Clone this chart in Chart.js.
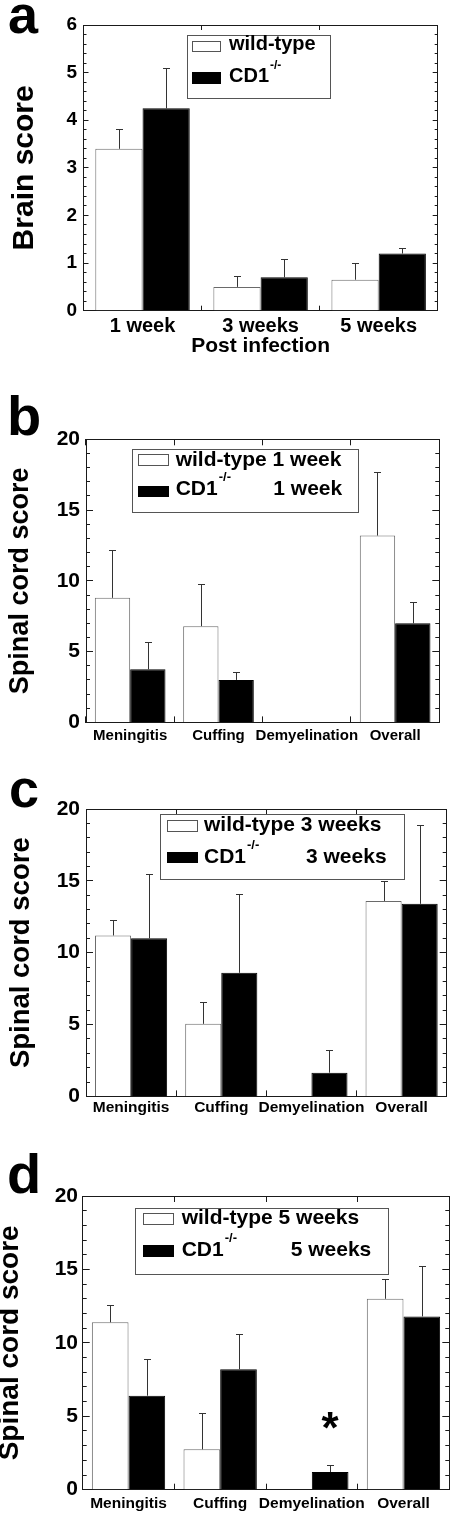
<!DOCTYPE html>
<html><head><meta charset="utf-8">
<script src="https://cdn.jsdelivr.net/npm/chart.js@4/dist/chart.umd.min.js"></script>
<style>
html,body{margin:0;padding:0;background:#fff;}
body{width:452px;height:1514px;position:relative;overflow:hidden;}
.panel{position:absolute;left:0;width:452px;}
</style></head><body>
<div class="panel" style="top:0;height:378px"><canvas id="ca"></canvas></div>
<div class="panel" style="top:380px;height:368px"><canvas id="cb"></canvas></div>
<div class="panel" style="top:750px;height:372px"><canvas id="cc"></canvas></div>
<div class="panel" style="top:1125px;height:389px"><canvas id="cd"></canvas></div>
<script>
// ---------- data ----------
const seriesNames = ['wild-type', 'CD1'];
const seriesSup = ['', '-/-'];
const timepoints = ['1 week', '3 weeks', '5 weeks'];

const brainCategories = ['1 week', '3 weeks', '5 weeks'];
const brainYTickLabels = ['0', '1', '2', '3', '4', '5', '6'];
const brainWildType = [3.40, 0.50, 0.65];
const brainWildTypeErr = [0.41, 0.23, 0.35];
const brainCD1 = [4.25, 0.70, 1.20];
const brainCD1Err = [0.85, 0.38, 0.12];

const cordCategories = ['Meningitis', 'Cuffing', 'Demyelination', 'Overall'];
const cordYTickLabels = ['0', '5', '10', '15', '20'];

const week1WildType = [8.8, 6.8, 0, 13.2];
const week1WildTypeErr = [3.4, 3.0, 0, 4.5];
const week1CD1 = [3.75, 3.0, 0, 7.0];
const week1CD1Err = [1.9, 0.55, 0, 1.5];

const week3WildType = [11.2, 5.05, 0, 13.6];
const week3WildTypeErr = [1.1, 1.5, 0, 1.4];
const week3CD1 = [11.0, 8.6, 1.65, 13.4];
const week3CD1Err = [4.5, 5.5, 1.6, 5.5];

const week5WildType = [11.4, 2.75, 0, 13.0];
const week5WildTypeErr = [1.2, 2.45, 0, 1.35];
const week5CD1 = [6.4, 8.2, 1.2, 11.8];
const week5CD1Err = [2.5, 2.4, 0.5, 3.45];
const week5Significance = [null, null, 4.0, null]; // '*' above CD1 bars

// ---------- plugins ----------
const FONT = "'Liberation Sans', Arial, Helvetica, sans-serif";
Chart.defaults.font.family = FONT;
Chart.defaults.color = '#000';

const errorBars = {
  id: 'errorBars',
  afterDatasetsDraw(chart, args, o) {
    const ctx = chart.ctx, ys = chart.scales.y;
    ctx.save();
    ctx.strokeStyle = o.color || '#333';
    ctx.lineWidth = 1;
    chart.data.datasets.forEach((ds, di) => {
      if (!ds.errors) return;
      const meta = chart.getDatasetMeta(di);
      meta.data.forEach((el, j) => {
        const e = ds.errors[j];
        if (!e) return;
        const v = ds.data[j];
        const x = Math.round(el.x) + 0.5;
        const y0 = ys.getPixelForValue(v);
        const y1 = Math.round(ys.getPixelForValue(v + e)) + 0.5;
        const cap = o.cap || 3.5;
        ctx.beginPath();
        ctx.moveTo(x, y0); ctx.lineTo(x, y1);
        ctx.moveTo(x - cap, y1); ctx.lineTo(x + cap, y1);
        ctx.stroke();
      });
    });
    ctx.restore();
  }
};

const boxLegend = {
  id: 'boxLegend',
  afterDraw(chart, args, o) {
    if (!o || !o.items) return;
    const ctx = chart.ctx, ca = chart.chartArea;
    const L = ca.left, T = ca.top;
    ctx.save();
    ctx.lineWidth = 1;
    ctx.strokeStyle = '#555';
    const [bx, by, bw, bh] = o.box;
    ctx.strokeRect(Math.round(L + bx) + 0.5, Math.round(T + by) + 0.5, Math.round(bw), Math.round(bh));
    o.items.forEach(it => {
      const [sx, sy, sw, sh] = it.swatch;
      const rx = Math.round(L + sx), ry = Math.round(T + sy), rw = Math.round(sw), rh = Math.round(sh);
      ctx.fillStyle = it.fill;
      ctx.fillRect(rx, ry, rw, rh);
      ctx.strokeStyle = it.stroke;
      ctx.strokeRect(rx + 0.5, ry + 0.5, rw - 1, rh - 1);
      ctx.fillStyle = '#000';
      ctx.textBaseline = 'alphabetic';
      ctx.textAlign = 'left';
      ctx.font = 'bold ' + o.font + 'px ' + FONT;
      const tx = L + it.x, ty = T + it.baseline;
      ctx.fillText(it.text, tx, ty);
      if (it.sup) {
        const w = ctx.measureText(it.text).width;
        ctx.font = 'bold ' + o.supFont + 'px ' + FONT;
        ctx.fillText(it.sup, tx + w + 1, ty - o.supRaise);
        ctx.font = 'bold ' + o.font + 'px ' + FONT;
      }
      if (it.tail) ctx.fillText(it.tail, L + it.tailX, ty);
    });
    ctx.restore();
  }
};

const panelLetter = {
  id: 'panelLetter',
  afterDraw(chart, args, o) {
    if (!o || !o.text) return;
    const ctx = chart.ctx;
    ctx.save();
    ctx.fillStyle = '#000';
    ctx.font = 'bold ' + o.size + 'px ' + FONT;
    ctx.textBaseline = 'alphabetic';
    ctx.textAlign = 'left';
    ctx.fillText(o.text, o.x, o.y);
    ctx.restore();
  }
};

const sigMarks = {
  id: 'sigMarks',
  afterDatasetsDraw(chart, args, o) {
    if (!o || !o.values) return;
    const ctx = chart.ctx, ys = chart.scales.y;
    const meta = chart.getDatasetMeta(o.dataset);
    ctx.save();
    ctx.fillStyle = '#000';
    ctx.font = 'bold ' + o.size + 'px ' + FONT;
    ctx.textAlign = 'center';
    ctx.textBaseline = 'middle';
    o.values.forEach((v, j) => {
      if (v === null || v === undefined) return;
      ctx.fillText(o.text, meta.data[j].x, ys.getPixelForValue(v));
    });
    ctx.restore();
  }
};

Chart.register(errorBars, boxLegend, panelLetter, sigMarks);

// ---------- builder ----------
function buildChart(id, c) {
  const yl = c.yLabels.map(Number);
  const ymin = yl[0], ymax = yl[yl.length - 1], major = yl[1] - yl[0];
  const tickCol = '#1a1a1a';
  const g = (len, offset) => ({display: true, drawOnChartArea: false, drawTicks: true,
    tickLength: -len, tickColor: tickCol, tickWidth: 1, offset: offset});
  const b = (show) => ({display: show, color: tickCol, width: 1});
  const lin = (pos, step, len, weight, showBorder, extraTicks, fitW) => ({
    type: 'linear', position: pos, min: ymin, max: ymax, weight: weight,
    grid: g(len, false), border: b(showBorder),
    ticks: Object.assign({display: false, stepSize: step, maxTicksLimit: 1000, autoSkip: false}, extraTicks || {}),
    afterFit: s => { s.width = fitW; }
  });
  const scales = {
    x: {type: 'category', position: 'bottom', offset: true, weight: 1, grid: g(c.xTick, true), border: b(true),
      ticks: {display: true, autoSkip: false, maxRotation: 0, minRotation: 0, padding: c.xPad, color: '#000',
        font: {size: c.xFont, weight: 'bold'}},
      title: c.xTitle ? {display: true, text: c.xTitle, color: '#000', font: {size: c.xTitleSize, weight: 'bold'},
        padding: {top: 0, bottom: 0}} : {display: false},
      afterFit: s => { s.height = c.xH; }},
    xTop: {type: 'category', position: 'top', labels: c.categories, offset: true, grid: g(c.xTick, true),
      border: b(true), ticks: {display: false}, afterFit: s => { s.height = 0; }},
    y: lin('left', major, c.majorTick, 2, true, {display: true, padding: c.yPad, color: '#000',
      font: {size: c.yFont, weight: 'bold'},
      callback: v => { const k = yl.indexOf(v); return k >= 0 ? c.yLabels[k] : ''; }}, c.left),
    yMinor: lin('left', c.minorStep, c.minorTick, 1, false, null, 0),
    yRight: lin('right', major, c.majorTick, 1, true, null, 0),
    yRightMinor: lin('right', c.minorStep, c.minorTick, 2, false, null, 0)
  };
  scales.y.title = {display: true, text: c.yTitle, color: '#000', font: {size: c.yTitleSize, weight: 'bold'},
    padding: {top: c.yTitlePad, bottom: 0}};
  return new Chart(document.getElementById(id), {
    type: 'bar',
    data: {
      labels: c.categories,
      datasets: c.datasets.map(d => ({
        label: d.label, data: d.data, errors: d.errors,
        backgroundColor: d.bg, borderColor: d.border, borderWidth: 1, borderSkipped: 'start',
        categoryPercentage: 0.8, barPercentage: 1.0, xAxisID: 'x', yAxisID: 'y'
      }))
    },
    options: {
      responsive: true, maintainAspectRatio: false, animation: false, events: [],
      layout: {padding: {top: c.top, right: c.right, bottom: c.bottom, left: 0}},
      scales: scales,
      plugins: {
        legend: {display: false}, tooltip: {enabled: false},
        errorBars: {color: '#333', cap: 3.5},
        boxLegend: c.legend, panelLetter: c.letter, sigMarks: c.sig || {}
      }
    }
  });
}

const wtStyle = {bg: '#ffffff', border: '#6a6a6a'};
const koStyle = {bg: '#000000', border: '#000000'};

function cordDatasets(wt, wtErr, ko, koErr, tp) {
  return [
    Object.assign({label: seriesNames[0] + ' ' + tp, data: wt, errors: wtErr}, wtStyle),
    Object.assign({label: seriesNames[1] + seriesSup[1] + ' ' + tp, data: ko, errors: koErr}, koStyle)
  ];
}
const cordCommon = {
  categories: cordCategories, yLabels: cordYTickLabels, minorStep: 1,
  xTick: 6, majorTick: 7, minorTick: 4, yFont: 21, yPad: 13,
  yTitle: 'Spinal cord score', bottom: 0
};

// Panel a
buildChart('ca', {
  categories: brainCategories, yLabels: brainYTickLabels, minorStep: 0.2,
  datasets: [
    Object.assign({label: seriesNames[0], data: brainWildType, errors: brainWildTypeErr}, wtStyle),
    Object.assign({label: seriesNames[1] + seriesSup[1], data: brainCD1, errors: brainCD1Err}, koStyle)
  ],
  top: 25, right: 14.3, bottom: 18.7, left: 83.5, xH: 48.6,
  xTick: 5, majorTick: 5, minorTick: 3,
  xFont: 20, xPad: 8.7, xTitle: 'Post infection', xTitleSize: 21,
  yFont: 19, yPad: 11.5, yTitle: 'Brain score', yTitleSize: 30, yTitlePad: 6.6,
  legend: {box: [103.2, 10, 142.6, 63.3], font: 20, supFont: 12, supRaise: 13, items: [
    {fill: '#fff', stroke: '#555', swatch: [108.2, 15.7, 29, 11], text: seriesNames[0], x: 145.5, baseline: 25},
    {fill: '#000', stroke: '#000', swatch: [108.2, 46.7, 29, 12], text: seriesNames[1], sup: seriesSup[1], x: 145.5, baseline: 56.7}
  ]},
  letter: {text: 'a', x: 8, y: 33, size: 54}
});

// Panel b
buildChart('cb', Object.assign({}, cordCommon, {
  datasets: cordDatasets(week1WildType, week1WildTypeErr, week1CD1, week1CD1Err, timepoints[0]),
  top: 59.3, right: 12.7, left: 86, xH: 25.3, xFont: 15, xPad: 10.3,
  yTitleSize: 27, yTitlePad: 4,
  legend: {box: [45.7, 9.7, 225.6, 63.3], font: 21, supFont: 13, supRaise: 14, items: [
    {fill: '#fff', stroke: '#555', swatch: [51.7, 14.7, 31, 12], text: seriesNames[0] + ' ' + timepoints[0], x: 89.7, baseline: 26.7},
    {fill: '#000', stroke: '#000', swatch: [51.7, 46.7, 31, 11], text: seriesNames[1], sup: seriesSup[1], tail: timepoints[0], tailX: 187.3, x: 89.7, baseline: 55.7}
  ]},
  letter: {text: 'b', x: 7, y: 55, size: 56}
}));

// Panel c
buildChart('cc', Object.assign({}, cordCommon, {
  datasets: cordDatasets(week3WildType, week3WildTypeErr, week3CD1, week3CD1Err, timepoints[1]),
  top: 59, right: 5.3, left: 86, xH: 22.7, xFont: 15.5, xPad: 8,
  yTitleSize: 27.5, yTitlePad: 4.5,
  legend: {box: [74, 5, 244, 65.3], font: 21, supFont: 13, supRaise: 14, items: [
    {fill: '#fff', stroke: '#555', swatch: [80.7, 11, 31, 12], text: seriesNames[0] + ' ' + timepoints[1], x: 118, baseline: 21.7},
    {fill: '#000', stroke: '#000', swatch: [80.7, 43, 31, 11], text: seriesNames[1], sup: seriesSup[1], tail: timepoints[1], tailX: 220, x: 118, baseline: 53.7}
  ]},
  letter: {text: 'c', x: 9, y: 56.7, size: 54}
}));

// Panel d
buildChart('cd', Object.assign({}, cordCommon, {
  datasets: cordDatasets(week5WildType, week5WildTypeErr, week5CD1, week5CD1Err, timepoints[2]),
  top: 71, right: 2.7, left: 82.7, xH: 23, xFont: 15.5, xPad: 10.3, yPad: 11.7,
  yTitleSize: 28, yTitlePad: -6.5,
  legend: {box: [52.3, 11.7, 253.3, 65.6], font: 21, supFont: 13, supRaise: 14, items: [
    {fill: '#fff', stroke: '#555', swatch: [60, 16.7, 31, 12], text: seriesNames[0] + ' ' + timepoints[2], x: 99, baseline: 28},
    {fill: '#000', stroke: '#000', swatch: [60, 49, 31, 12], text: seriesNames[1], sup: seriesSup[1], tail: timepoints[2], tailX: 208, x: 99, baseline: 60}
  ]},
  letter: {text: 'd', x: 7, y: 68.3, size: 56},
  sig: {dataset: 1, values: week5Significance, text: '*', size: 44}
}));
</script>
</body></html>
